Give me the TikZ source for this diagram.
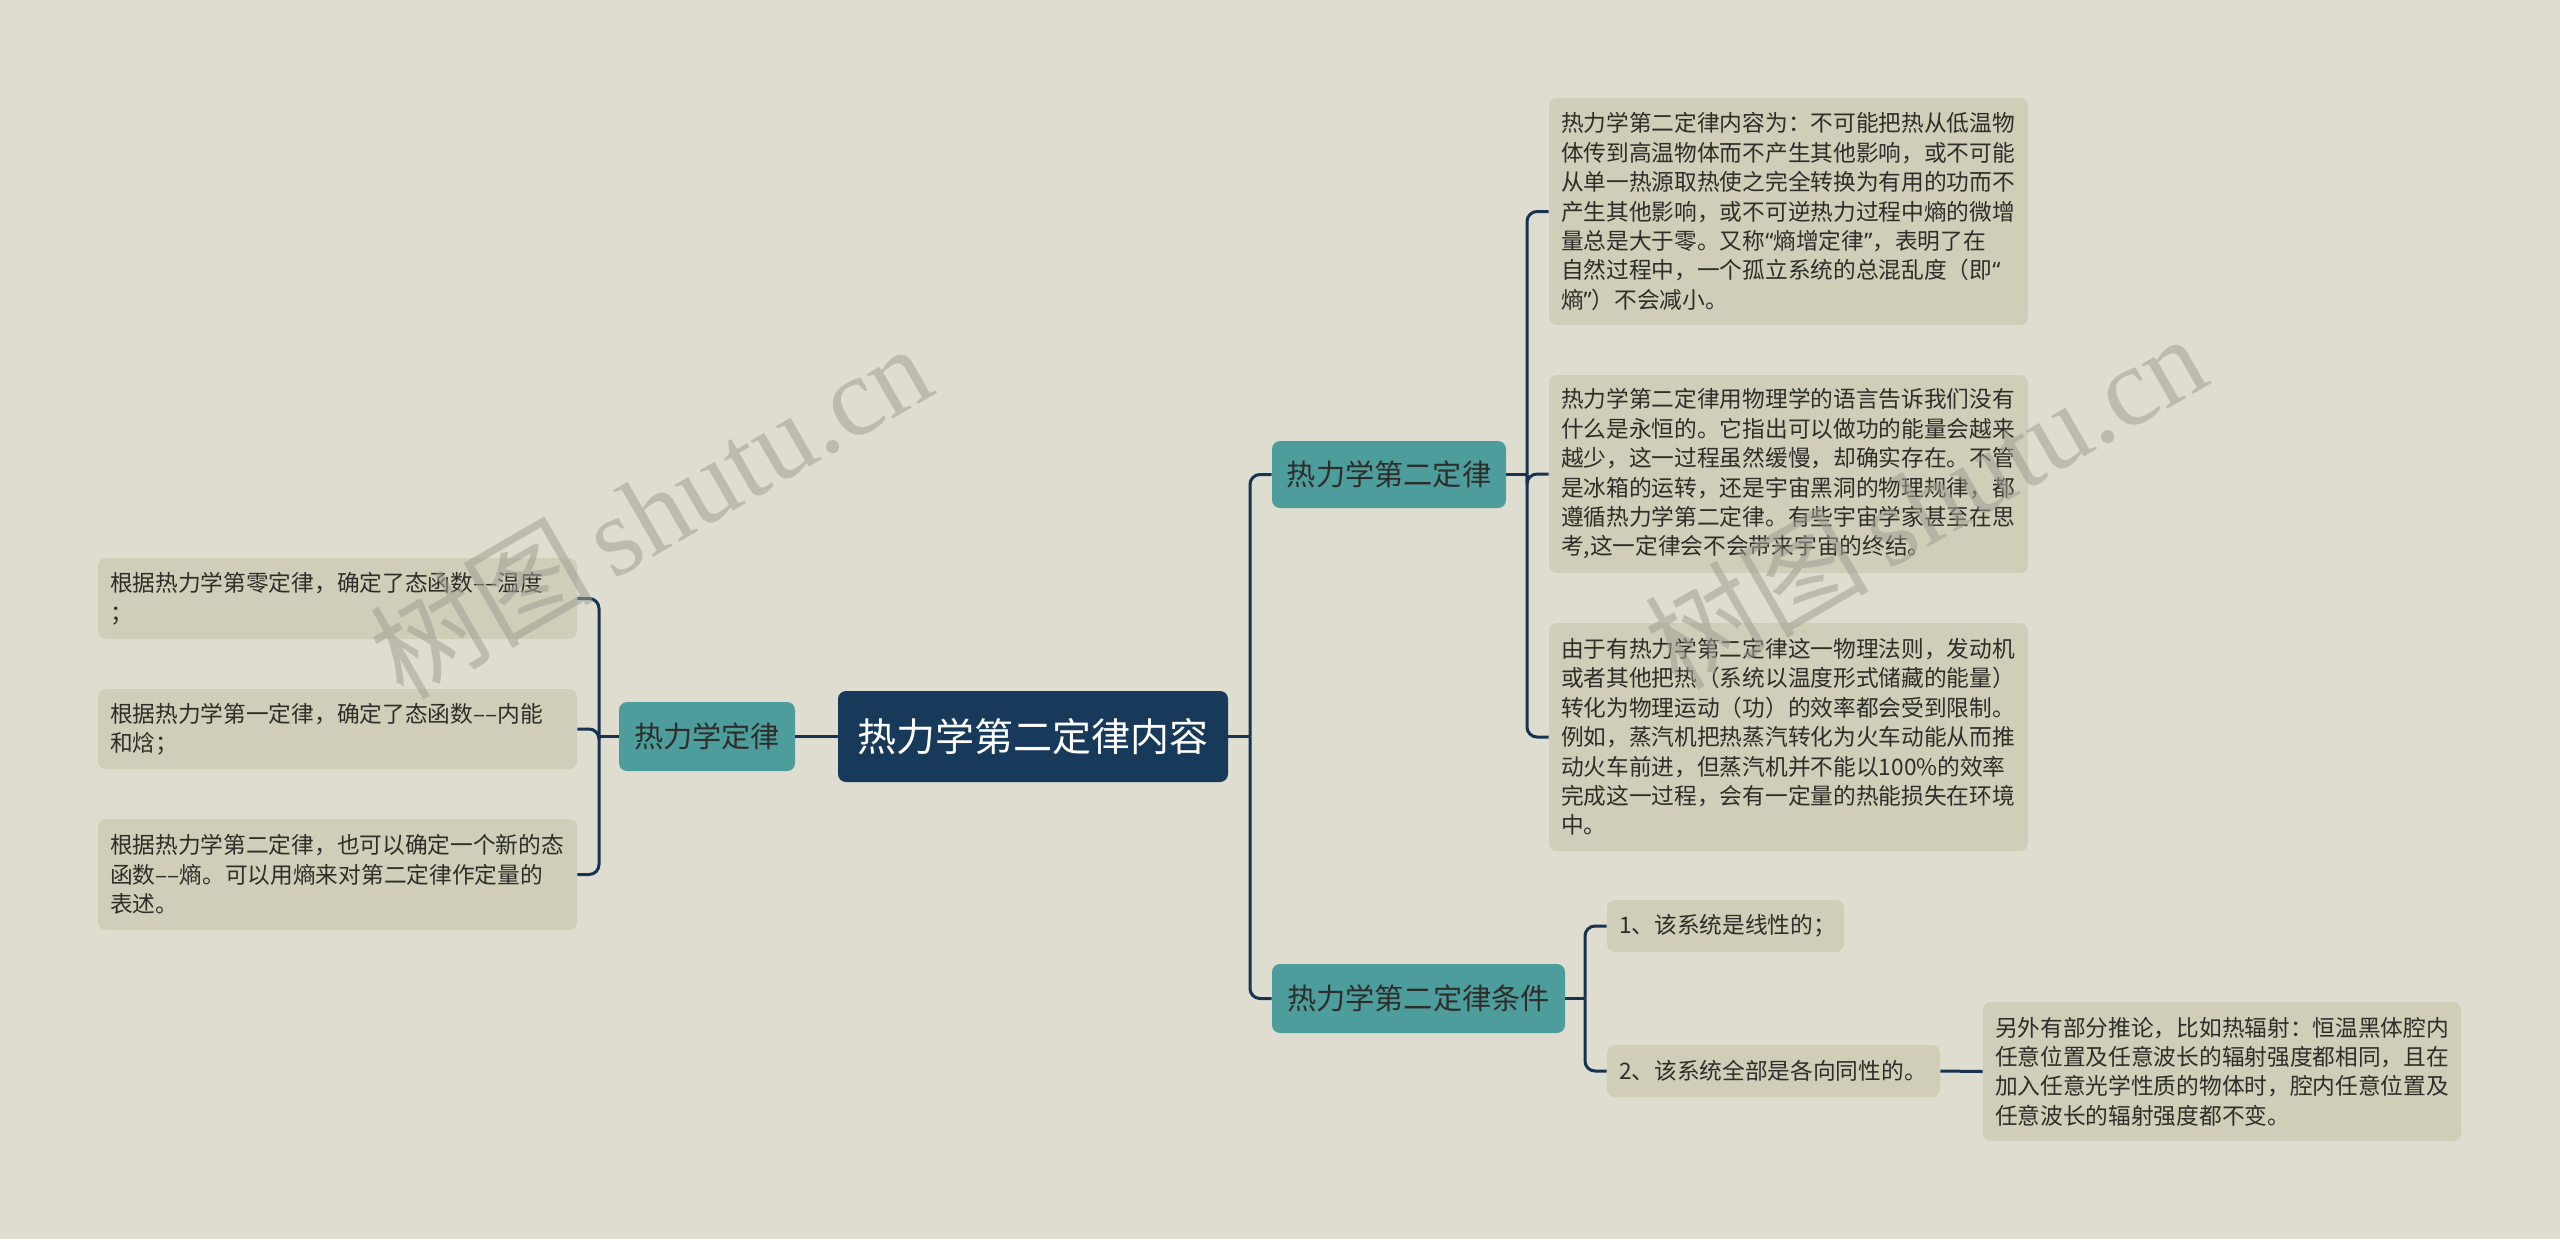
\documentclass[tikz,border=0pt]{standalone}
\usepackage{fontspec}
\setmainfont{Noto Sans CJK SC}
\newfontfamily\wmserif{Liberation Serif}
\newfontfamily\wmcjk{Noto Sans CJK SC}
\newfontfamily\qfont{Noto Sans}
\newcommand{\myLq}{{\qfont “}}
\newcommand{\myRq}{{\qfont ”}}
\definecolor{bgc}{RGB}{223,221,207}
\definecolor{leafc}{RGB}{208,206,184}
\definecolor{tealc}{RGB}{78,157,157}
\definecolor{rootc}{RGB}{23,58,91}
\definecolor{linec}{RGB}{22,52,82}
\definecolor{txtc}{RGB}{45,45,42}
\definecolor{wmc}{RGB}{160,160,148}
\tikzset{
  x=0.5pt, y=-0.5pt,
  leafbox/.style={fill=leafc, rounded corners=4pt, text=txtc,
    font=\fontsize{11.35pt}{14.7pt}\selectfont, align=left,
    inner xsep=6pt, inner ysep=0pt, anchor=center},
  midbox/.style={fill=tealc, rounded corners=4pt, text=txtc,
    font=\fontsize{14.6pt}{17pt}\selectfont, inner sep=0pt, anchor=center},
  rootbox/.style={fill=rootc, rounded corners=4pt, text=white,
    font=\fontsize{19.5pt}{23pt}\selectfont, inner sep=0pt, anchor=center},
  conn/.style={draw=linec, line width=1.5pt, rounded corners=5pt},
  wmark/.style={text=wmc, opacity=0.55, rotate=30, anchor=center, inner sep=0pt}
}
\begin{document}
\begin{tikzpicture}
\fill[bgc] (0,0) rectangle (2560,1239);
\useasboundingbox (0,0) rectangle (2560,1239);

% nodes
\node[rootbox, minimum width=195pt, minimum height=45.5pt] (root) at (1033,736.5) {热力学第二定律内容};
\node[midbox, minimum width=88pt, minimum height=34.5pt] (L0) at (707,736.5) {热力学定律};
\node[midbox, minimum width=117pt, minimum height=33.5pt] (b1) at (1389,474.5) {热力学第二定律};
\node[midbox, minimum width=146.5pt, minimum height=34.5pt] (b2) at (1418.5,998.5) {热力学第二定律条件};

\node[leafbox, text width=227.5pt, minimum height=40.5pt] (L1) at (337.5,598.5) {根据热力学第零定律，确定了态函数––温度\\；};
\node[leafbox, text width=227.5pt, minimum height=40pt] (L2) at (337.5,729) {根据热力学第一定律，确定了态函数––内能\\和焓；};
\node[leafbox, text width=227.5pt, minimum height=55.5pt] (L3) at (337.5,874.5) {根据热力学第二定律，也可以确定一个新的态\\函数––熵。可以用熵来对第二定律作定量的\\表述。};

\node[leafbox, text width=227.5pt, minimum height=113.5pt] (R1) at (1788.5,211.5) {热力学第二定律内容为：不可能把热从低温物\\体传到高温物体而不产生其他影响，或不可能\\从单一热源取热使之完全转换为有用的功而不\\产生其他影响，或不可逆热力过程中熵的微增\\量总是大于零。又称\myLq 熵增定律\myRq ，表明了在\\自然过程中，一个孤立系统的总混乱度（即\myLq\\熵\myRq ）不会减小。};
\node[leafbox, text width=227.5pt, minimum height=99pt] (R2) at (1788.5,474) {热力学第二定律用物理学的语言告诉我们没有\\什么是永恒的。它指出可以做功的能量会越来\\越少，这一过程虽然缓慢，却确实存在。不管\\是冰箱的运转，还是宇宙黑洞的物理规律，都\\遵循热力学第二定律。有些宇宙学家甚至在思\\考,这一定律会不会带来宇宙的终结。};
\node[leafbox, text width=227.5pt, minimum height=114pt] (R3) at (1788.5,737) {由于有热力学第二定律这一物理法则，发动机\\或者其他把热（系统以温度形式储藏的能量）\\转化为物理运动（功）的效率都会受到限制。\\例如，蒸汽机把热蒸汽转化为火车动能从而推\\动火车前进，但蒸汽机并不能以100\%的效率\\完成这一过程，会有一定量的热能损失在环境\\中。};

\node[leafbox, text width=106.5pt, minimum height=26pt] (c1) at (1725.5,926) {1、该系统是线性的；};
\node[leafbox, text width=154.5pt, minimum height=26pt] (c2) at (1773.5,1071) {2、该系统全部是各向同性的。};
\node[leafbox, text width=227pt, minimum height=69.5pt] (d1) at (2222,1071.5) {另外有部分推论，比如热辐射：恒温黑体腔内\\任意位置及任意波长的辐射强度都相同，且在\\加入任意光学性质的物体时，腔内任意位置及\\任意波长的辐射强度都不变。};

% junctions
\coordinate (lj) at (599,736.5);
\coordinate (rj) at (1250,736.5);
\coordinate (b1j) at (1527,474.5);
\coordinate (b2j) at (1585,998.5);

% connectors
\draw[conn] (root.west) -- (L0.east);
\draw[conn] (L0.west) -- (lj);
\draw[conn] (lj) |- (L1.east);
\draw[conn] (lj) |- (L2.east);
\draw[conn] (lj) |- (L3.east);

\draw[conn] (root.east) -- (rj);
\draw[conn] (rj) |- (b1.west);
\draw[conn] (rj) |- (b2.west);

\draw[conn] (b1.east) -- (b1j);
\draw[conn] (b1j) |- (R1.west);
\draw[conn] (b1j) |- (R2.west);
\draw[conn] (b1j) |- (R3.west);

\draw[conn] (b2.east) -- (b2j);
\draw[conn] (b2j) |- (c1.west);
\draw[conn] (b2j) |- (c2.west);
\draw[conn] (c2.east) -- (d1.west);

% watermarks
\node[wmark] (wm1) at (650,510) {\fontsize{56pt}{56pt}\selectfont\wmcjk 树图\,\wmserif shutu.cn};
\node[wmark] (wm2) at (1925,500) {\fontsize{56pt}{56pt}\selectfont\wmcjk 树图\,\wmserif shutu.cn};
\end{tikzpicture}
\end{document}
